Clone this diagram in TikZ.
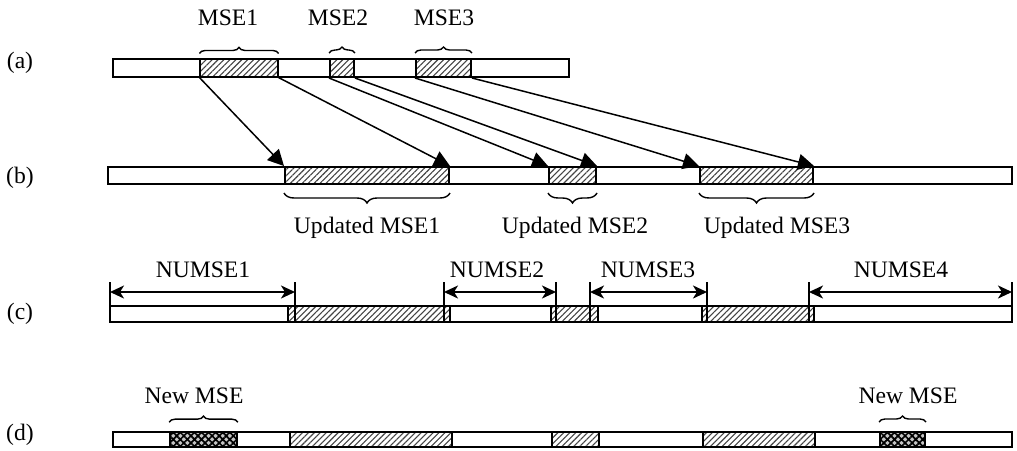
\documentclass[tikz,border=0pt]{standalone}
\usepackage{fontspec}
\setmainfont{Liberation Serif}
\usetikzlibrary{positioning,fit,patterns.meta,arrows.meta,decorations.pathreplacing}
\definecolor{hatchgray}{HTML}{444444}

\tikzset{
  bar/.style={draw, line width=1pt, inner sep=0pt, fit={#1}},
  mse/.style={draw, line width=1pt, inner sep=0pt, fit={#1},
    pattern={Lines[angle=45, distance=2.1pt, line width=0.55pt]}, pattern color=hatchgray},
  newmse/.style={draw, line width=1pt, inner sep=0pt, fit={#1},
    preaction={fill=gray!45},
    pattern={Hatch[angle=45, distance=2.5pt, line width=0.85pt]}, pattern color=black},
  brc/.style={decorate, decoration={brace, amplitude=#1}, line width=0.7pt},
  mapto/.style={-{Triangle[length=8pt, width=8pt]}, line width=0.75pt},
  dim/.style={{Stealth[length=7pt, width=6.5pt, inset=2pt]}-{Stealth[length=7pt, width=6.5pt, inset=2pt]}, line width=1pt},
  tick/.style={line width=0.75pt}
}

\begin{document}
\begin{tikzpicture}[x=0.5pt, y=-0.5pt, font=\fontsize{11.8}{14}\selectfont]
  \path[use as bounding box, fill=white] (0,0) rectangle (1017,450);

  % Row labels
  \foreach \r/\y in {a/68, b/183, c/319, d/440}
    \node[anchor=base] (row\r) at (20,\y) {(\r)};

  % (a) input sequence with MSEs
  \node[bar={(113,59)(569,77)}] (bara) {};
  \node[mse={(200,59)(278,77)}] (a1) {};
  \node[mse={(330,59)(354,77)}] (a2) {};
  \node[mse={(416,59)(471,77)}] (a3) {};
  \foreach \s in {a1,a2,a3}
    \draw[brc=3pt] ([yshift=2.5pt]\s.north west) -- ([yshift=2.5pt]\s.north east);
  \node[anchor=base] (la1) at (228,25) {MSE1};
  \node[anchor=base] (la2) at (338,25) {MSE2};
  \node[anchor=base] (la3) at (444,25) {MSE3};

  % (b) updated sequence
  \node[bar={(108,167)(1012,184)}] (barb) {};
  \node[mse={(285,167)(449,184)}] (b1) {};
  \node[mse={(549,167)(596,184)}] (b2) {};
  \node[mse={(700,167)(813,184)}] (b3) {};
  \foreach \s in {b1,b2,b3}
    \draw[brc=5pt] ([yshift=-4pt]\s.south east) -- ([yshift=-4pt]\s.south west);
  \node[anchor=base] (lb1) at (367,233) {Updated MSE1};
  \node[anchor=base] (lb2) at (575,233) {Updated MSE2};
  \node[anchor=base] (lb3) at (777,233) {Updated MSE3};

  % Mapping (a) -> (b)
  \foreach \i in {1,2,3} {
    \draw[mapto] (a\i.south west) -- (b\i.north west);
    \draw[mapto] (a\i.south east) -- (b\i.north east);
  }

  % (c) non-MSE gaps
  \node[bar={(110,306)(1012,322)}] (barc) {};
  \node[mse={(288,306)(450,322)}] (c1) {};
  \node[mse={(551,306)(598,322)}] (c2) {};
  \node[mse={(702,306)(814,322)}] (c3) {};
  \foreach \i/\x in {0/110, 1/295, 2/444, 3/556, 4/590, 5/707, 6/809, 7/1012} {
    \coordinate (t\i) at (\x,282);
    \coordinate (m\i) at (\x,292);
    \draw[tick] (t\i) -- (\x,322);
  }
  \draw[dim] (m0) -- (m1);
  \draw[dim] (m2) -- (m3);
  \draw[dim] (m4) -- (m5);
  \draw[dim] (m6) -- (m7);
  \node[anchor=base] (lc1) at (203,277) {NUMSE1};
  \node[anchor=base] (lc2) at (497,277) {NUMSE2};
  \node[anchor=base] (lc3) at (648,277) {NUMSE3};
  \node[anchor=base] (lc4) at (901,277) {NUMSE4};

  % (d) new MSEs found in the gaps
  \node[bar={(113,432)(1012,447)}] (bard) {};
  \node[newmse={(170,432)(237,447)}] (n1) {};
  \node[mse={(290,432)(452,447)}] (d1) {};
  \node[mse={(552,432)(599,447)}] (d2) {};
  \node[mse={(703,432)(815,447)}] (d3) {};
  \node[newmse={(880,432)(925,447)}] (n2) {};
  \foreach \s in {n1,n2}
    \draw[brc=3pt] ([yshift=4.5pt]\s.north west) -- ([yshift=4.5pt]\s.north east);
  \node[anchor=base] (ln1) at (194,403) {New MSE};
  \node[anchor=base] (ln2) at (908,403) {New MSE};
\end{tikzpicture}
\end{document}
